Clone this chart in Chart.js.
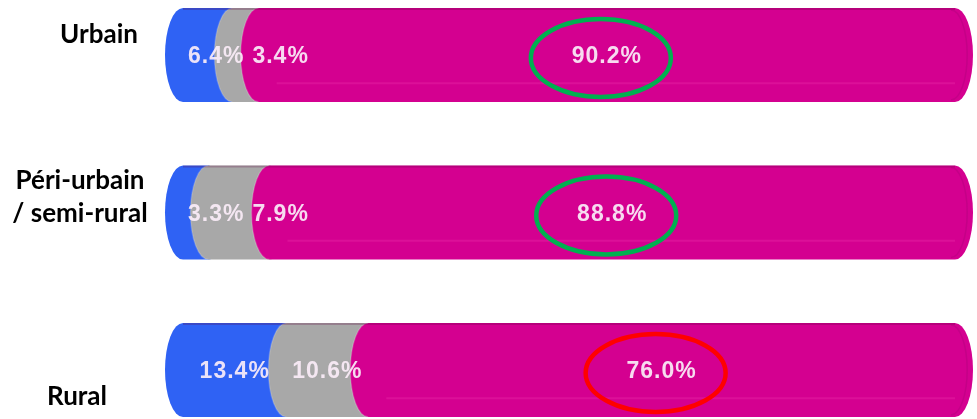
<!DOCTYPE html>
<html>
<head>
<meta charset="utf-8">
<script src="https://cdn.jsdelivr.net/npm/chart.js@4.4.1/dist/chart.umd.min.js"></script>
<style>
  html, body { margin: 0; padding: 0; background: #fff; }
</style>
</head>
<body>
<canvas id="myChart" width="977" height="419"></canvas>
<script>
// data
const categories = [["Urbain"], ["Péri-urbain", "/ semi-rural"], ["Rural"]];
const blueShare = [6.4, 3.3, 13.4];
const grayShare = [3.4, 7.9, 10.6];
const pinkShare = [90.2, 88.8, 76.0];

// looks
const colors = ["#2f62f4", "#a8a8a8", "#d40090"];
const highlightColors = ["#00b050", "#00b050", "#ff0000"];
const capRx = 18;
// where each category name sits (x centre, shift from bar centre)
const namePlace = [
  { x: 99, dy: -20 },
  { x: 80, dy: -15 },
  { x: 77, dy: 27 },
];

const fmt = (v) => v.toFixed(1) + "%";

const cylinderBars = {
  id: "cylinderBars",
  beforeDatasetDraw() {
    return false;
  },
  afterDatasetsDraw(chart) {
    const ctx = chart.ctx;
    const n = chart.data.datasets.length;
    chart.data.labels.forEach((lab, i) => {
      let first = null;
      let last = null;
      const pieces = [];
      for (let d = 0; d < n; d++) {
        const el = chart.getDatasetMeta(d).data[i];
        const p = el.getProps(["x", "y", "base", "height"], true);
        const ry = p.height / 2;
        ctx.save();
        ctx.beginPath();
        ctx.ellipse(p.base, p.y, capRx, ry, 0, Math.PI / 2, Math.PI * 1.5);
        ctx.lineTo(p.x, p.y - ry);
        ctx.ellipse(p.x, p.y, capRx, ry, 0, -Math.PI / 2, Math.PI / 2);
        ctx.closePath();
        ctx.fillStyle = chart.data.datasets[d].backgroundColor;
        ctx.fill();
        if (d > 0) {
          // soft rim where one segment starts on top of the other
          ctx.beginPath();
          ctx.ellipse(p.base, p.y, capRx, ry, 0, Math.PI / 2, Math.PI * 1.5);
          ctx.strokeStyle = "rgba(255,255,255,0.18)";
          ctx.lineWidth = 1.5;
          ctx.stroke();
        }
        ctx.restore();
        if (first === null) first = p;
        last = p;
        pieces.push({ p, d });
      }

      // top / bottom shading and end face of the cylinder
      const ry = last.height / 2;
      ctx.save();
      ctx.beginPath();
      ctx.moveTo(first.base, last.y - ry + 1);
      ctx.lineTo(last.x, last.y - ry + 1);
      ctx.strokeStyle = "rgba(90,0,60,0.25)";
      ctx.lineWidth = 2;
      ctx.stroke();
      ctx.beginPath();
      ctx.moveTo(last.base + capRx, last.y + ry * 0.6);
      ctx.lineTo(last.x, last.y + ry * 0.6);
      ctx.strokeStyle = "rgba(255,80,190,0.2)";
      ctx.lineWidth = 2;
      ctx.stroke();
      ctx.beginPath();
      ctx.ellipse(last.x - 4, last.y, capRx * 0.9, ry - 2, 0, -Math.PI / 2, Math.PI / 2);
      ctx.strokeStyle = "rgba(170,0,120,0.35)";
      ctx.lineWidth = 1.5;
      ctx.stroke();
      ctx.restore();

      // value labels, pushed right when small segments crowd them
      ctx.save();
      ctx.font = "bold 23px 'Liberation Sans', Arial, sans-serif";
      ctx.letterSpacing = "1px";
      ctx.textBaseline = "middle";
      ctx.textAlign = "left";
      ctx.fillStyle = "rgba(250,236,248,0.93)";
      let prevRight = first.base + 5;
      pieces.forEach(({ p, d }) => {
        const txt = fmt(chart.data.datasets[d].data[i]);
        const w = ctx.measureText(txt).width;
        let left = (p.base + p.x) / 2 - w / 2;
        left = Math.max(left, prevRight);
        ctx.fillText(txt, left, p.y + 2);
        prevRight = left + w + 8;
        if (d === n - 1) {
          ctx.beginPath();
          ctx.ellipse(left + w / 2 - 6, p.y + 3, 70, 39, 0, 0, Math.PI * 2);
          ctx.strokeStyle = highlightColors[i];
          ctx.lineWidth = 4.5;
          ctx.stroke();
        }
      });
      ctx.restore();
    });

    // category names
    const yScale = chart.scales.y;
    ctx.save();
    ctx.font = "bold 26px Lato, 'Open Sans', sans-serif";
    ctx.fillStyle = "#000";
    ctx.textBaseline = "middle";
    ctx.textAlign = "center";
    chart.data.labels.forEach((lines, i) => {
      const cy = yScale.getPixelForValue(i) + namePlace[i].dy;
      const lh = 33;
      lines.forEach((line, k) => {
        ctx.fillText(line, namePlace[i].x, cy + (k - (lines.length - 1) / 2) * lh);
      });
    });
    ctx.restore();
  },
};

const ctx = document.getElementById("myChart").getContext("2d");
const myChart = new Chart(ctx, {
  type: "bar",
  data: {
    labels: categories,
    datasets: [
      { data: blueShare, backgroundColor: colors[0] },
      { data: grayShare, backgroundColor: colors[1] },
      { data: pinkShare, backgroundColor: colors[2] },
    ].map((ds) => ({ ...ds, barThickness: 94, clip: false })),
  },
  options: {
    indexAxis: "y",
    responsive: false,
    animation: false,
    layout: { padding: { left: 183, right: 22, top: 55, bottom: 49 } },
    plugins: { legend: { display: false }, tooltip: { enabled: false } },
    scales: {
      x: { stacked: true, min: 0, max: 100, display: false },
      y: { stacked: true, display: false, offset: false },
    },
  },
  plugins: [cylinderBars],
});
</script>
</body>
</html>
